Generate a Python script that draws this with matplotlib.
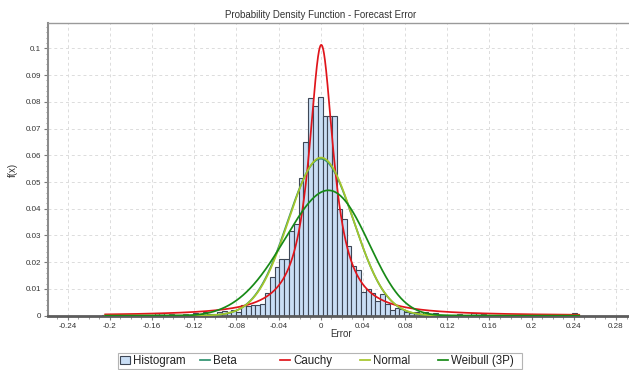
import math
import numpy as np
import matplotlib
matplotlib.use("Agg")
import matplotlib.pyplot as plt
from matplotlib.ticker import MultipleLocator, FixedLocator, FuncFormatter
from matplotlib.lines import Line2D
from matplotlib.patches import Patch, Rectangle

# ---- Histogram of forecast errors (relative frequency per bin) ----
bin_start = -0.2075
bin_width = 0.00455
hist_freq = [
    0.0004, 0, 0, 0.0003, 0, 0, 0.0002, 0, 0, 0.0003, 0,
    0.0009, 0.0010, 0.0004, 0.0006, 0.0004, 0.0002, 0.0006, 0.0004, 0.0010,
    0.0005, 0.0012, 0.0008, 0.0006, 0.0012,
    0.0018, 0.0015, 0.0022, 0.0015, 0.0040, 0.0038, 0.0039, 0.0040, 0.0044, 0.0084,
    0.0146, 0.0181, 0.0212, 0.0212, 0.0315, 0.0343, 0.0514, 0.0651, 0.0813, 0.0785,
    0.0817, 0.0748, 0.0745, 0.0748, 0.0400, 0.0360, 0.0262, 0.0185, 0.0170, 0.0090,
    0.0100, 0.0085, 0.0055, 0.0080, 0.0045, 0.0022, 0.0030, 0.0025, 0.0015, 0.0010,
    0.0012, 0.0008, 0.0014, 0.0006, 0.0010, 0, 0.0003, 0, 0.0004, 0.0008,
    0, 0.0003, 0.0009, 0.0009, 0.0006, 0, 0, 0.0003, 0, 0,
    0, 0, 0.0002, 0, 0, 0, 0, 0.0002, 0, 0,
    0, 0, 0, 0.0009,
]

# ---- Fitted distributions ----
data_min, data_max = -0.2052, 0.2459
beta_a, beta_b, beta_lo, beta_hi = 47.3, 47.3, -0.30, 0.30
cauchy_loc, cauchy_scale = 0.0005, 0.0143
normal_mu, normal_sigma = 0.0003, 0.0307
weibull_k, weibull_lam, weibull_gamma = 4.5, 0.165, -0.1488

x_ticks = [-0.24, -0.2, -0.16, -0.12, -0.08, -0.04, 0, 0.04, 0.08, 0.12, 0.16, 0.2, 0.24, 0.28]
y_ticks = [0, 0.01, 0.02, 0.03, 0.04, 0.05, 0.06, 0.07, 0.08, 0.09, 0.1]
legend_labels = ["Histogram", "Beta", "Cauchy", "Normal", "Weibull (3P)"]

colors = {
    "bar_face": "#c9def5",
    "bar_edge": "#3e4756",
    "Beta": "#2f9270",
    "Cauchy": "#e0151b",
    "Normal": "#a6c62c",
    "Weibull (3P)": "#178a17",
}


def beta_pdf(x):
    t = (x - beta_lo) / (beta_hi - beta_lo)
    t = np.clip(t, 1e-12, 1 - 1e-12)
    log_b = math.lgamma(beta_a) + math.lgamma(beta_b) - math.lgamma(beta_a + beta_b)
    return np.exp((beta_a - 1) * np.log(t) + (beta_b - 1) * np.log(1 - t) - log_b) / (beta_hi - beta_lo)


def cauchy_pdf(x):
    z = (x - cauchy_loc) / cauchy_scale
    return 1.0 / (math.pi * cauchy_scale * (1 + z ** 2))


def normal_pdf(x):
    z = (x - normal_mu) / normal_sigma
    return np.exp(-0.5 * z ** 2) / (normal_sigma * math.sqrt(2 * math.pi))


def weibull_pdf(x):
    u = np.clip((x - weibull_gamma) / weibull_lam, 0, None)
    return (weibull_k / weibull_lam) * u ** (weibull_k - 1) * np.exp(-u ** weibull_k)


plt.rcParams["font.family"] = ["Liberation Sans", "DejaVu Sans"]

W, H = 629, 370
fig = plt.figure(figsize=(W / 100, H / 100), dpi=100)
ax_left, ax_right, ax_top, ax_bottom = 48, 629, 23.3, 315.7
ax = fig.add_axes([ax_left / W, (H - ax_bottom) / H,
                   (ax_right - ax_left) / W, (ax_bottom - ax_top) / H])

# histogram bars
edges = bin_start + bin_width * np.arange(len(hist_freq) + 1)
ax.bar(edges[:-1], hist_freq, width=bin_width, align="edge",
       facecolor=colors["bar_face"], edgecolor=colors["bar_edge"],
       linewidth=0.8, zorder=2)

# fitted curves, scaled to the bin width so they share the histogram's scale
xs = np.linspace(data_min, data_max, 2000)
curves = [
    ("Beta", beta_pdf),
    ("Cauchy", cauchy_pdf),
    ("Normal", normal_pdf),
    ("Weibull (3P)", weibull_pdf),
]
for name, pdf in curves:
    ax.plot(xs, pdf(xs) * bin_width, color=colors[name], linewidth=1.25,
            zorder=3, solid_capstyle="butt")

ax.set_xlim(-0.2586, 0.2923)
ax.set_ylim(0, 0.10935)


def fmt(v, _pos=None):
    s = f"{v:.2f}".rstrip("0").rstrip(".")
    if s in ("-0", ""):
        s = "0"
    return s


ax.xaxis.set_major_locator(FixedLocator(x_ticks))
ax.yaxis.set_major_locator(FixedLocator(y_ticks))
ax.xaxis.set_minor_locator(MultipleLocator(0.01))
ax.yaxis.set_minor_locator(MultipleLocator(0.002))
ax.xaxis.set_major_formatter(FuncFormatter(fmt))
ax.yaxis.set_major_formatter(FuncFormatter(fmt))

ax.tick_params(axis="both", which="major", direction="out", length=3, width=0.8,
               color="#7a7a7a", labelsize=5.8, labelcolor="#333333", pad=2)
ax.tick_params(axis="both", which="minor", direction="out", length=1.8, width=0.6,
               color="#8a8a8a")

ax.grid(True, which="major", color="#dcdcdc", linestyle=(0, (3, 3)), linewidth=0.7)
ax.set_axisbelow(True)

ax.spines["right"].set_visible(False)
ax.spines["top"].set_color("#9a9a9a")
ax.spines["top"].set_linewidth(1.0)
ax.spines["left"].set_color("#8c8c8c")
ax.spines["left"].set_linewidth(1.5)
ax.spines["bottom"].set_color("#5c5c5c")
ax.spines["bottom"].set_linewidth(2.0)

# titles and axis labels
fig.text(320.4 / W, 1 - 15 / H, "Probability Density Function - Forecast Error",
         ha="center", va="center", fontsize=7, color="#333333")
fig.text(341 / W, 1 - 334 / H, "Error", ha="center", va="center",
         fontsize=7, color="#333333")
fig.text(13 / W, 1 - 170 / H, "f(x)", ha="center", va="center", rotation=90,
         fontsize=7, color="#333333")

# legend: evenly spaced entries inside a single frame
legend_fs = 8.3
handles = [Patch(facecolor=colors["bar_face"], edgecolor=colors["bar_edge"], linewidth=0.8)]
handles += [Line2D([], [], color=colors[n], linewidth=1.25) for n in legend_labels[1:]]
entry_x = [120, 200, 280, 360, 438]
legend_y = 1 - 361 / H
for h, lab, ex in zip(handles, legend_labels, entry_x):
    leg = fig.legend([h], [lab], loc="center left", bbox_to_anchor=(ex / W, legend_y),
                     frameon=False, fontsize=legend_fs, borderpad=0, borderaxespad=0,
                     handlelength=0.85, handleheight=0.8, handletextpad=0.3)
    for t in leg.get_texts():
        t.set_color("#222222")

fig.patches.append(Rectangle((118 / W, 1 - 369.3 / H), 404 / W, 16 / H,
                             transform=fig.transFigure, facecolor="none",
                             edgecolor="#b4b4b4", linewidth=0.8))

fig.savefig("out.png", dpi=100)
